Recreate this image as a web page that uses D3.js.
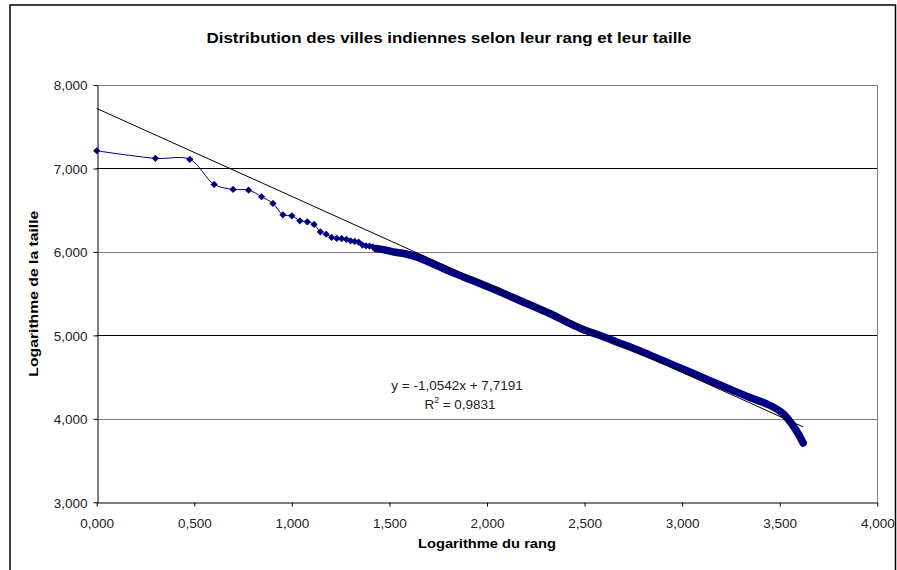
<!DOCTYPE html>
<html><head><meta charset="utf-8">
<script src="https://cdn.jsdelivr.net/npm/d3@7"></script>
<style>
body{margin:0;background:#fff;}
text{font-family:"Liberation Sans",Arial,sans-serif;}
</style></head>
<body><svg id="c" width="897" height="570"></svg>
<script>
// Individual top-ranked cities: log10(rank), log10(size)
const headX = [0.000,0.301,0.477,0.602,0.699,0.778,0.845,0.903,0.954,1.000,1.041,1.079,1.114,1.146,1.176,1.204,1.230,1.255,1.279,1.301,1.322,1.342,1.362,1.380,1.398,1.415,1.431];
const headY = [7.212,7.121,7.109,6.809,6.749,6.741,6.661,6.581,6.445,6.433,6.373,6.361,6.329,6.241,6.213,6.174,6.162,6.160,6.150,6.133,6.126,6.118,6.082,6.073,6.070,6.061,6.042];
// Dense tail (thousands of overlapping markers), read as band centre
const tailX = [1.431,1.470,1.519,1.580,1.639,1.700,1.776,1.850,1.912,2.066,2.203,2.322,2.410,2.493,2.580,2.664,2.750,2.835,2.920,3.005,3.090,3.176,3.250,3.347,3.449,3.517,3.560,3.594,3.620];
const tailY = [6.042,6.028,6.001,5.978,5.941,5.882,5.802,5.728,5.670,5.522,5.382,5.262,5.160,5.070,4.998,4.922,4.845,4.763,4.680,4.595,4.510,4.423,4.350,4.255,4.163,4.063,3.944,3.824,3.711];
const slope = -1.0542, intercept = 7.7191, r2 = "0,9831";
const xTicks = [0,0.5,1,1.5,2,2.5,3,3.5,4];
const yTicks = [3,4,5,6,7,8];
const title = "Distribution des villes indiennes selon leur rang et leur taille";
const xTitle = "Logarithme du rang";
const yTitle = "Logarithme de la taille";

const svg = d3.select("#c");
const L=96.7, R=877.3, T=85, B=502.3;
const x = d3.scaleLinear().domain([0,4]).range([L,R]);
const y = d3.scaleLinear().domain([3,8]).range([B,T]);
const fmt = v => d3.format(".3f")(v).replace(".", ",");

// outer frame
svg.append("rect").attr("x",10).attr("y",5).attr("width",885.5).attr("height",575)
  .attr("fill","none").attr("stroke","#000").attr("stroke-width",1.5);

// gridlines
svg.append("g").selectAll("line").data(yTicks.filter(d=>d>3)).join("line")
  .attr("x1",L).attr("x2",R).attr("y1",d=>Math.round(y(d))+0.5).attr("y2",d=>Math.round(y(d))+0.5)
  .attr("stroke",d=>(d===7||d===5)?"#000":"#808080").attr("stroke-width",1);
// right border of plot
svg.append("line").attr("x1",Math.round(R)+0.5).attr("x2",Math.round(R)+0.5).attr("y1",T).attr("y2",B)
  .attr("stroke","#808080");

// axes
const xAxis = svg.append("g").attr("transform",`translate(0,${Math.round(B)+0.5})`)
  .call(d3.axisBottom(x).tickValues(xTicks).tickFormat(fmt).tickSize(4).tickSizeOuter(0));
const yAxis = svg.append("g").attr("transform",`translate(${Math.round(L)+0.5},0)`)
  .call(d3.axisLeft(y).tickValues(yTicks).tickFormat(fmt).tickSize(4).tickSizeOuter(0));
[xAxis,yAxis].forEach(g=>{
  g.select(".domain").attr("stroke","#000");
  g.selectAll(".tick line").attr("stroke","#000");
  g.selectAll("text").attr("font-size",13.5).attr("fill","#222").attr("font-family","Liberation Sans, Arial, sans-serif");
});
xAxis.selectAll("text").attr("y",25).attr("dy",0);
yAxis.selectAll("text").attr("x",-10).attr("dy","0.36em");

// dense tail band
svg.append("path").datum(tailX.map((d,i)=>[d,tailY[i]]))
  .attr("d",d3.line().x(d=>x(d[0])).y(d=>y(d[1])).curve(d3.curveCatmullRom))
  .attr("fill","none").attr("stroke","#000080").attr("stroke-width",7.5).attr("stroke-linecap","round");

// head connecting line
const headPts = headX.map((d,i)=>[d,headY[i]]);
svg.append("path").datum(headPts)
  .attr("d",d3.line().x(d=>x(d[0])).y(d=>y(d[1])).curve(d3.curveCatmullRom))
  .attr("fill","none").attr("stroke","#000080").attr("stroke-width",1);
// diamond markers
svg.append("g").selectAll("path").data(headPts).join("path")
  .attr("transform",d=>`translate(${x(d[0])},${y(d[1])})`)
  .attr("d","M0,-3.6L3.6,0L0,3.6L-3.6,0Z").attr("fill","#000080");

// trend line
const xMax = d3.max(tailX);
svg.append("line").attr("x1",x(0)).attr("y1",y(intercept))
  .attr("x2",x(xMax)).attr("y2",y(intercept+slope*xMax))
  .attr("stroke","#000").attr("stroke-width",1);

// equation label
const eq = svg.append("text").attr("x",457).attr("y",390).attr("text-anchor","middle").attr("font-size",13.5).attr("fill","#222");
eq.text(`y = ${String(slope).replace(".",",")}x + ${String(intercept).replace(".",",")}`);
const r = svg.append("text").attr("x",460).attr("y",409).attr("text-anchor","middle").attr("font-size",13.5).attr("fill","#222");
r.append("tspan").text("R");
r.append("tspan").attr("font-size",8.5).attr("dy",-6).text("2");
r.append("tspan").attr("dy",6).text(` = ${r2}`);

// titles
svg.append("text").attr("x",449).attr("y",43).attr("text-anchor","middle")
  .attr("font-size",15.5).attr("font-weight","bold").attr("textLength",485).attr("lengthAdjust","spacingAndGlyphs").text(title);
svg.append("text").attr("x",487).attr("y",548).attr("text-anchor","middle")
  .attr("font-size",13.5).attr("font-weight","bold").attr("textLength",138).attr("lengthAdjust","spacingAndGlyphs").text(xTitle);
svg.append("text").attr("transform",`translate(38,${(T+B)/2}) rotate(-90)`).attr("text-anchor","middle")
  .attr("font-size",13.5).attr("font-weight","bold").attr("textLength",166).attr("lengthAdjust","spacingAndGlyphs").text(yTitle);
</script></body></html>
